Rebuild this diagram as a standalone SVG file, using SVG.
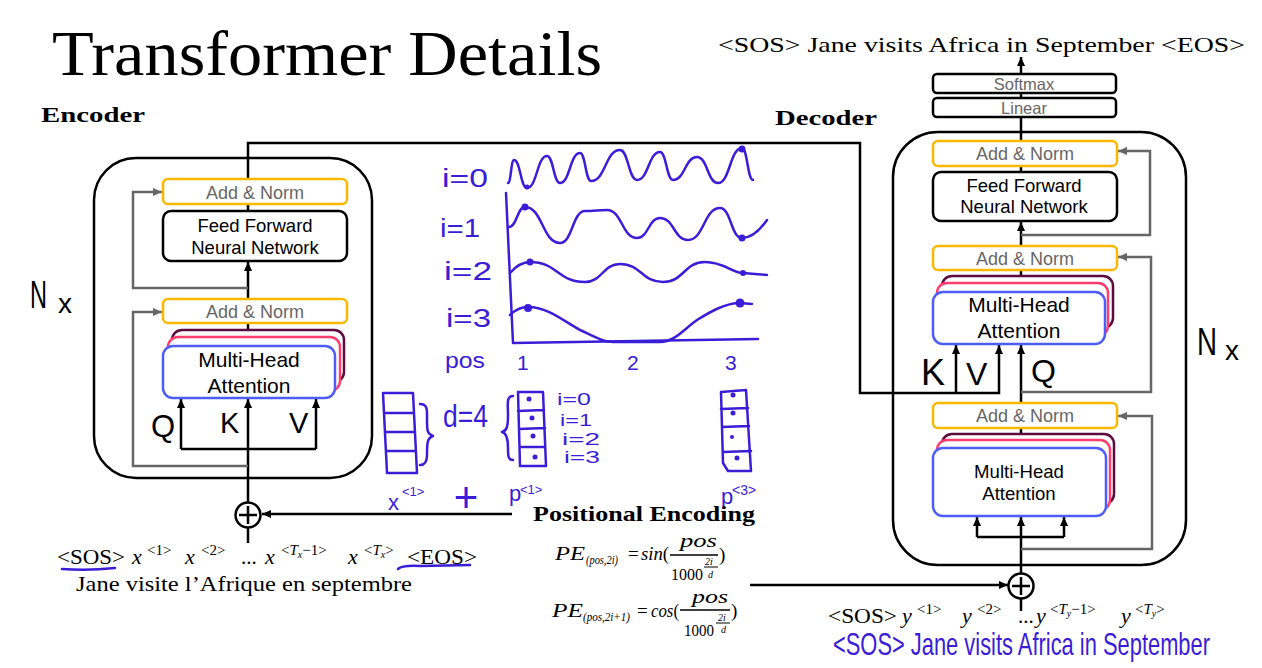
<svg xmlns="http://www.w3.org/2000/svg" width="1262" height="668" viewBox="0 0 1262 668">
<style>
svg{font-family:"Liberation Sans",Arial,sans-serif}
.serif{font-family:"Liberation Serif","Times New Roman",serif;fill:#000}
.it{font-style:italic}
.bold{font-weight:bold}
.frame{fill:none;stroke:#000;stroke-width:2.5}
.box{fill:#fff;stroke:#000;stroke-width:2.5}
.an{fill:#fff;stroke:#fbb800;stroke-width:2.5}
.h1{fill:#fff;stroke:#5c0a40;stroke-width:2.5}
.h2{fill:#fff;stroke:#ff3d6e;stroke-width:2.5}
.h3{fill:#fff;stroke:#4d5df5;stroke-width:2.5}
.gl{fill:#666;text-anchor:middle}
.bl{fill:#000;text-anchor:middle}
.wire{fill:none;stroke:#000;stroke-width:2.5}
.res{fill:none;stroke:#666;stroke-width:2.5}
.pen{fill:none;stroke:#3a1dd6;stroke-width:2.5;stroke-linecap:round;stroke-linejoin:round}
.ink{fill:#3a1dd6}
.hand{fill:#000}
.sum{fill:#fff;stroke:#000;stroke-width:2.5}
</style>
<defs>
<marker id="ah" viewBox="0 0 10 10" refX="10" refY="5" markerWidth="9" markerHeight="9" markerUnits="userSpaceOnUse" orient="auto"><path d="M0,0.5 L10,5 L0,9.5 z" fill="#000"/></marker>
<marker id="ahg" viewBox="0 0 10 10" refX="10" refY="5" markerWidth="9" markerHeight="9" markerUnits="userSpaceOnUse" orient="auto"><path d="M0,0.5 L10,5 L0,9.5 z" fill="#666"/></marker>
</defs>
<rect width="1262" height="668" fill="#fff"/>

<!-- headings -->
<g class="serif">
  <text x="52" y="75" font-size="64" textLength="550" lengthAdjust="spacingAndGlyphs">Transformer Details</text>
  <text class="bold" x="41" y="122" font-size="22" textLength="104" lengthAdjust="spacingAndGlyphs">Encoder</text>
  <text class="bold" x="775" y="125" font-size="22" textLength="102" lengthAdjust="spacingAndGlyphs">Decoder</text>
  <text x="718" y="52" font-size="22" textLength="527" lengthAdjust="spacingAndGlyphs">&lt;SOS&gt; Jane visits Africa in September &lt;EOS&gt;</text>
</g>

<!-- connectors -->
<g id="connectors">
  <!-- encoder trunk -->
  <path class="wire" d="M248,543 V528"/>
  <path class="wire" d="M248,502 V399" marker-end="url(#ah)"/>
  <path class="wire" d="M181,449 H316"/>
  <path class="wire" d="M181,449 V399" marker-end="url(#ah)"/>
  <path class="wire" d="M316,449 V399" marker-end="url(#ah)"/>
  <path class="wire" d="M248,330 V323"/>
  <path class="wire" d="M248,299 V262" marker-end="url(#ah)"/>
  <path class="wire" d="M248,211 V204"/>
  <path class="res" d="M248,466 H133 V312 H162" marker-end="url(#ahg)"/>
  <path class="res" d="M248,288 H133 V192 H162" marker-end="url(#ahg)"/>
  <!-- encoder output to decoder K, V -->
  <path class="wire" d="M248,179 V143 H860 V393 H999 V345" marker-end="url(#ah)"/>
  <path class="wire" d="M956,393 V345" marker-end="url(#ah)"/>
  <!-- positional encodings into the sums -->
  <path class="wire" d="M512,514 H262" marker-end="url(#ah)"/>
  <path class="wire" d="M750,585 H1008" marker-end="url(#ah)"/>
  <!-- decoder trunk -->
  <path class="wire" d="M1021,611 V599"/>
  <path class="wire" d="M1021,573 V517" marker-end="url(#ah)"/>
  <path class="wire" d="M977,537 H1064"/>
  <path class="wire" d="M977,537 V517" marker-end="url(#ah)"/>
  <path class="wire" d="M1064,537 V517" marker-end="url(#ah)"/>
  <path class="res" d="M1021,549 H1152 V416 H1118" marker-end="url(#ahg)"/>
  <path class="wire" d="M1021,434 V428"/>
  <path class="wire" d="M1021,403 V345" marker-end="url(#ah)"/>
  <path class="res" d="M1021,392 H1151 V257 H1118" marker-end="url(#ahg)"/>
  <path class="wire" d="M1021,276 V270"/>
  <path class="wire" d="M1021,246 V222" marker-end="url(#ah)"/>
  <path class="res" d="M1021,235 H1150 V151 H1118" marker-end="url(#ahg)"/>
  <path class="wire" d="M1021,172 V166"/>
  <path class="wire" d="M1021,141 V117"/>
  <path class="wire" d="M1021,98 V93"/>
  <path class="wire" d="M1021,74 V57" marker-end="url(#ah)"/>
</g>

<!-- encoder stack -->
<g id="encoder">
  <rect class="frame" x="94" y="158" width="278" height="320" rx="42"/>
  <text class="hand" x="30" y="308" font-size="38" textLength="17" lengthAdjust="spacingAndGlyphs">N</text>
  <text class="hand" x="58" y="313" font-size="28">x</text>
</g>
<g id="enc-addnorm-2">
  <rect class="an" x="163" y="179" width="184" height="25" rx="5"/>
  <text class="gl" x="255" y="199" font-size="18">Add &amp; Norm</text>
</g>
<g id="enc-ffn">
  <rect class="box" x="163" y="211" width="184" height="50" rx="8"/>
  <text class="bl" x="255" y="232" font-size="18.5">Feed Forward</text>
  <text class="bl" x="255" y="254" font-size="18.5">Neural Network</text>
</g>
<g id="enc-addnorm-1">
  <rect class="an" x="163" y="299" width="184" height="24" rx="5"/>
  <text class="gl" x="255" y="318" font-size="18">Add &amp; Norm</text>
</g>
<g id="enc-mha">
  <rect class="h1" x="172" y="330" width="172" height="52" rx="10"/>
  <rect class="h2" x="168" y="337" width="172" height="54" rx="10"/>
  <rect class="h3" x="163" y="346" width="172" height="52" rx="10"/>
  <text class="bl" x="249" y="367" font-size="21">Multi-Head</text>
  <text class="bl" x="249" y="393" font-size="21">Attention</text>
  <text class="hand" x="151" y="437" font-size="31">Q</text>
  <text class="hand" x="220" y="433" font-size="29">K</text>
  <text class="hand" x="289" y="433" font-size="29">V</text>
</g>
<g id="enc-sum">
  <circle class="sum" cx="248" cy="515" r="12.5"/>
  <path class="wire" d="M239,515 H257 M248,506 V524"/>
</g>

<!-- encoder input tokens -->
<g id="enc-input" class="serif">
  <text x="57" y="564" font-size="21" textLength="68" lengthAdjust="spacingAndGlyphs">&lt;SOS&gt;</text>
  <text x="132" y="564" font-size="22" class="it">x</text>
  <text x="147" y="555" font-size="15">&lt;1&gt;</text>
  <text x="185" y="564" font-size="22" class="it">x</text>
  <text x="201" y="555" font-size="15">&lt;2&gt;</text>
  <text x="241" y="564" font-size="21">...</text>
  <text x="265" y="564" font-size="22" class="it">x</text>
  <text x="281" y="555" font-size="15">&lt;<tspan class="it">T</tspan><tspan class="it" font-size="10" dy="3">x</tspan><tspan dy="-3">−1&gt;</tspan></text>
  <text x="348" y="564" font-size="22" class="it">x</text>
  <text x="364" y="555" font-size="15">&lt;<tspan class="it">T</tspan><tspan class="it" font-size="10" dy="3">x</tspan><tspan dy="-3">&gt;</tspan></text>
  <text x="407" y="564" font-size="21" textLength="70" lengthAdjust="spacingAndGlyphs">&lt;EOS&gt;</text>
  <text x="76" y="591" font-size="21" textLength="336" lengthAdjust="spacingAndGlyphs">Jane visite l’Afrique en septembre</text>
  <path class="pen" d="M62,569 Q88,571 115,568"/>
  <path class="pen" d="M398,569 Q402,565 420,566 L470,565"/>
</g>

<!-- positional encoding sketch -->
<g id="pe-sketch">
  <text class="ink" x="442" y="187" font-size="25" textLength="46" lengthAdjust="spacingAndGlyphs">i=0</text>
  <text class="ink" x="440" y="237" font-size="25" textLength="40" lengthAdjust="spacingAndGlyphs">i=1</text>
  <text class="ink" x="444" y="280" font-size="25" textLength="48" lengthAdjust="spacingAndGlyphs">i=2</text>
  <text class="ink" x="446" y="327" font-size="25" textLength="45" lengthAdjust="spacingAndGlyphs">i=3</text>
  <text class="ink" x="445" y="368" font-size="22" textLength="40" lengthAdjust="spacingAndGlyphs">pos</text>
  <text class="ink" x="517" y="370" font-size="21">1</text>
  <text class="ink" x="627" y="370" font-size="21">2</text>
  <text class="ink" x="725" y="370" font-size="21">3</text>
  <path class="pen" d="M506,193 L513,343 L758,339"/>
  <path class="pen" d="M508,183 C511,183 511,160 514,160 C520.5,160 520.5,188 527,188 C537,188 537,156 547,156 C553.5,156 553.5,183 560,183 C570,183 570,153 580,153 C585.5,153 585.5,181 591,181 C605.5,181 605.5,150 620,150 C628.5,150 628.5,180 637,180 C648.5,180 648.5,152 660,152 C666.5,152 666.5,180 673,180 C685,180 685,157 697,157 C707.5,157 707.5,183 718,183 C730,183 730,148 742,148 C747.5,148 747.5,180 753,180"/>
  <path class="pen" d="M509,227 C517,227 517,207 525,207 C542.5,207 542.5,243 560,243 C572.5,243 572.5,211 585,211 C593,211 600,210 607,210 C622,210 622,238 637,238 C648.5,238 648.5,218 660,218 C674,218 674,240 688,240 C704,240 704,208 720,208 C731,208 731,238 742,238 C752,238 760,230 767,220"/>
  <path class="pen" d="M510,273 C516,266 522,262 530,262 C557.5,262 557.5,282 585,282 C602.5,282 602.5,264 620,264 C641.5,264 641.5,282 663,282 C684,282 684,262 705,262 C724,262 732,273 743,273 L767,275"/>
  <path class="pen" d="M510,315 C515,310 520,307 528,307 C548,307 565,322 580,330 C595,337 603,342 613,342 L660,342 C675,342 685,328 697,320 C710,312 725,303 740,303 L752,304"/>
  <g class="ink">
    <circle cx="742" cy="149" r="3.5"/>
    <circle cx="527" cy="187" r="2.5"/>
    <circle cx="525" cy="207" r="3.5"/>
    <circle cx="742" cy="238" r="3.5"/>
    <circle cx="530" cy="262" r="3.5"/>
    <circle cx="743" cy="273" r="3"/>
    <circle cx="528" cy="308" r="4"/>
    <circle cx="740" cy="303" r="4.5"/>
  </g>
  <!-- vectors -->
  <path class="pen" d="M383,393 L413,393 L417,473 L387,473 Z M384,413 L414,413 M385,432 L415,432 M386,451 L416,451"/>
  <path class="pen" d="M420,404 C428,404 427,410 427,420 C427,430 427,434 433,436 C427,438 427,444 427,455 C427,463 424,465 420,465"/>
  <text class="ink" x="443" y="427" font-size="32" textLength="45" lengthAdjust="spacingAndGlyphs">d=4</text>
  <path class="pen" d="M513,396 C506,396 508,405 508,415 C508,426 507,431 502,432 C507,433 508,440 508,448 C508,456 508,460 513,460"/>
  <path class="pen" d="M518,392 L543,392 L546,466 L520,466 Z M518,411 L544,410 M519,429 L545,428 M520,447 L545,447"/>
  <g class="ink">
    <circle cx="529" cy="399" r="2.5"/>
    <circle cx="532" cy="418" r="2.5"/>
    <circle cx="533" cy="436" r="2.5"/>
    <circle cx="535" cy="457" r="2.5"/>
  </g>
  <text class="ink" x="557" y="405" font-size="17" textLength="34" lengthAdjust="spacingAndGlyphs">i=0</text>
  <text class="ink" x="560" y="426" font-size="17" textLength="32" lengthAdjust="spacingAndGlyphs">i=1</text>
  <text class="ink" x="562" y="445" font-size="17" textLength="38" lengthAdjust="spacingAndGlyphs">i=2</text>
  <text class="ink" x="564" y="463" font-size="17" textLength="36" lengthAdjust="spacingAndGlyphs">i=3</text>
  <path class="pen" d="M721,392 L746,390 L751,471 L728,471 L723,463 Z M721,409 L748,408 M722,427 L749,426 M723,452 L751,451"/>
  <g class="ink">
    <circle cx="733" cy="395" r="2.5"/>
    <circle cx="733" cy="413" r="2.5"/>
    <circle cx="732" cy="437" r="2"/>
    <circle cx="737" cy="458" r="2.5"/>
  </g>
  <text class="ink" x="388" y="510" font-size="22">x</text>
  <text class="ink" x="402" y="496" font-size="13">&lt;1&gt;</text>
  <text class="ink" x="466" y="512" font-size="42" text-anchor="middle">+</text>
  <text class="ink" x="509" y="501" font-size="22">p</text>
  <text class="ink" x="520" y="494" font-size="13">&lt;1&gt;</text>
  <text class="ink" x="721" y="504" font-size="22">p</text>
  <text class="ink" x="732" y="495" font-size="14">&lt;3&gt;</text>
</g>

<!-- positional encoding formulas -->
<g id="pe-formulas" class="serif">
  <text class="bold" x="533" y="521" font-size="21" textLength="222" lengthAdjust="spacingAndGlyphs">Positional Encoding</text>
  <text x="555" y="560" font-size="19" class="it" textLength="30" lengthAdjust="spacingAndGlyphs">PE</text>
  <text x="586" y="564" font-size="13" class="it" textLength="32" lengthAdjust="spacingAndGlyphs">(pos,2i)</text>
  <text x="628" y="560" font-size="19">=</text>
  <text x="641" y="560" font-size="18" textLength="28" lengthAdjust="spacingAndGlyphs"><tspan class="it">sin</tspan>(</text>
  <text x="680" y="547" font-size="19" class="it" textLength="37" lengthAdjust="spacingAndGlyphs">pos</text>
  <path d="M670,555 H718" stroke="#000" stroke-width="1.6"/>
  <text x="671" y="580" font-size="16.5" textLength="32" lengthAdjust="spacingAndGlyphs">1000</text>
  <text x="705" y="565" font-size="10" class="it">2i</text>
  <path d="M704,567 H718" stroke="#000" stroke-width="1"/>
  <text x="708" y="578" font-size="10" class="it">d</text>
  <text x="719" y="561" font-size="19">)</text>

  <text x="552" y="617" font-size="19" class="it" textLength="31" lengthAdjust="spacingAndGlyphs">PE</text>
  <text x="583" y="621" font-size="12" class="it" textLength="47" lengthAdjust="spacingAndGlyphs">(pos,2i+1)</text>
  <text x="637" y="617" font-size="19">=</text>
  <text x="651" y="617" font-size="18" textLength="28" lengthAdjust="spacingAndGlyphs"><tspan class="it">cos</tspan>(</text>
  <text x="692" y="603" font-size="19" class="it" textLength="36" lengthAdjust="spacingAndGlyphs">pos</text>
  <path d="M680,610 H730" stroke="#000" stroke-width="1.6"/>
  <text x="684" y="636" font-size="16" textLength="30" lengthAdjust="spacingAndGlyphs">1000</text>
  <text x="718" y="621" font-size="10" class="it">2i</text>
  <path d="M716,623 H730" stroke="#000" stroke-width="1"/>
  <text x="721" y="633" font-size="10" class="it">d</text>
  <text x="731" y="617" font-size="19">)</text>
</g>

<!-- decoder stack -->
<g id="decoder">
  <rect class="frame" x="893" y="132" width="293" height="433" rx="45"/>
  <text class="hand" x="1197" y="355" font-size="38" textLength="20" lengthAdjust="spacingAndGlyphs">N</text>
  <text class="hand" x="1225" y="360" font-size="28">x</text>
</g>
<g id="dec-softmax">
  <rect class="box" x="933" y="74" width="183" height="19" rx="4"/>
  <text class="gl" x="1024" y="90" font-size="16.5">Softmax</text>
</g>
<g id="dec-linear">
  <rect class="box" x="933" y="98" width="183" height="19" rx="4"/>
  <text class="gl" x="1024" y="114" font-size="16.5">Linear</text>
</g>
<g id="dec-addnorm-3">
  <rect class="an" x="933" y="141" width="184" height="25" rx="5"/>
  <text class="gl" x="1025" y="160" font-size="18">Add &amp; Norm</text>
</g>
<g id="dec-ffn">
  <rect class="box" x="933" y="172" width="184" height="49" rx="8"/>
  <text class="bl" x="1024" y="192" font-size="18.5">Feed Forward</text>
  <text class="bl" x="1024" y="213" font-size="18.5">Neural Network</text>
</g>
<g id="dec-addnorm-2">
  <rect class="an" x="933" y="246" width="184" height="24" rx="5"/>
  <text class="gl" x="1025" y="265" font-size="18">Add &amp; Norm</text>
</g>
<g id="dec-cross-mha">
  <rect class="h1" x="942" y="276" width="171" height="52" rx="10"/>
  <rect class="h2" x="937" y="283" width="171" height="53" rx="10"/>
  <rect class="h3" x="933" y="292" width="172" height="52" rx="10"/>
  <text class="bl" x="1019" y="312" font-size="21">Multi-Head</text>
  <text class="bl" x="1019" y="338" font-size="21">Attention</text>
  <text class="hand" x="921" y="385" font-size="36">K</text>
  <text class="hand" x="966" y="385" font-size="32">V</text>
  <text class="hand" x="1031" y="382" font-size="32">Q</text>
</g>
<g id="dec-addnorm-1">
  <rect class="an" x="933" y="403" width="184" height="25" rx="5"/>
  <text class="gl" x="1025" y="422" font-size="18">Add &amp; Norm</text>
</g>
<g id="dec-self-mha">
  <rect class="h1" x="942" y="434" width="172" height="70" rx="10"/>
  <rect class="h2" x="937" y="440" width="173" height="70" rx="10"/>
  <rect class="h3" x="933" y="448" width="173" height="68" rx="10"/>
  <text class="bl" x="1019" y="478" font-size="18.6">Multi-Head</text>
  <text class="bl" x="1019" y="500" font-size="18.6">Attention</text>
</g>
<g id="dec-sum">
  <circle class="sum" cx="1021" cy="586" r="12.5"/>
  <path class="wire" d="M1012,586 H1030 M1021,577 V595"/>
</g>

<!-- decoder input tokens -->
<g id="dec-input" class="serif">
  <text x="828" y="623" font-size="21" textLength="69" lengthAdjust="spacingAndGlyphs">&lt;SOS&gt;</text>
  <text x="902" y="623" font-size="22" class="it">y</text>
  <text x="917" y="614" font-size="15">&lt;1&gt;</text>
  <text x="962" y="623" font-size="22" class="it">y</text>
  <text x="977" y="614" font-size="15">&lt;2&gt;</text>
  <text x="1018" y="623" font-size="21">...</text>
  <text x="1036" y="623" font-size="22" class="it">y</text>
  <text x="1050" y="614" font-size="15">&lt;<tspan class="it">T</tspan><tspan class="it" font-size="10" dy="3">y</tspan><tspan dy="-3">−1&gt;</tspan></text>
  <text x="1121" y="623" font-size="22" class="it">y</text>
  <text x="1135" y="614" font-size="15">&lt;<tspan class="it">T</tspan><tspan class="it" font-size="10" dy="3">y</tspan><tspan dy="-3">&gt;</tspan></text>
</g>
<!-- handwritten target sentence, stretched tall like the pen strokes -->
<g id="dec-target" transform="translate(0,655) scale(1,1.35) translate(0,-655)">
  <text class="ink" x="833" y="655" font-size="23" textLength="377" lengthAdjust="spacingAndGlyphs">&lt;SOS&gt; Jane visits Africa in September</text>
</g>
</svg>
